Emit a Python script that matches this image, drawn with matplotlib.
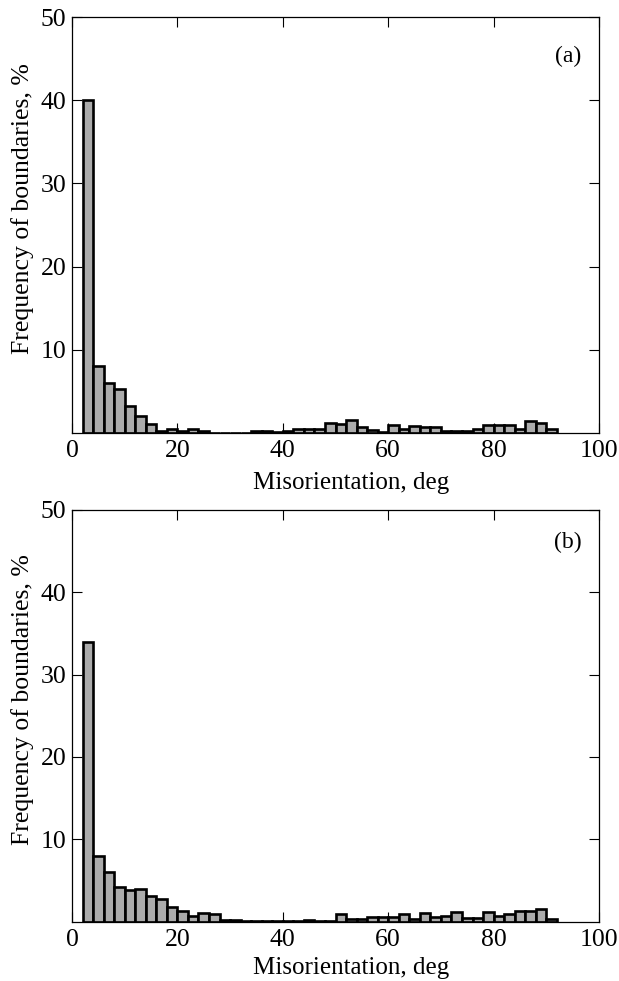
import matplotlib
matplotlib.use("Agg")
import matplotlib.pyplot as plt
import numpy as np

plt.rcParams['font.family'] = ['Liberation Serif', 'DejaVu Serif']

bin_edges = list(range(2, 94, 2))  # 2..92
freq_a = [40, 8, 6, 5.3, 3.2, 2.0, 1.1, 0.3, 0.5, 0.3, 0.5, 0.3,
          0, 0, 0, 0, 0.3, 0.3, 0.1, 0.3, 0.45, 0.45, 0.45, 1.2, 1.1, 1.55,
          0.7, 0.35, 0.1, 1.0, 0.45, 0.9, 0.7, 0.7, 0.3, 0.3, 0.3, 0.5,
          1.0, 1.0, 1.0, 0.5, 1.4, 1.25, 0.5]
freq_b = [34, 8, 6, 4.2, 3.8, 4.0, 3.1, 2.8, 1.8, 1.3, 0.7, 1.0,
          0.9, 0.25, 0.25, 0.1, 0.1, 0.1, 0.1, 0.1, 0.1, 0.2, 0.05, 0.05,
          0.9, 0.3, 0.3, 0.6, 0.6, 0.6, 0.9, 0.3, 1.05, 0.55, 0.75, 1.2,
          0.5, 0.5, 1.2, 0.75, 0.9, 1.35, 1.35, 1.6, 0.3]
panel_labels = ["(a)", "(b)"]
xlabel = "Misorientation, deg"
ylabel = "Frequency of boundaries, %"
xticks = [0, 20, 40, 60, 80, 100]
yticks = [10, 20, 30, 40, 50]

W, H = 619, 981
fig = plt.figure(figsize=(W/100, H/100), dpi=100)
axes_rects = [
    [72/W, 1-433/H, (599-72)/W, (433-17)/H],
    [72/W, 1-921.7/H, (599-72)/W, (921.7-509.7)/H],
]
label_pos = [(94.1, 45.3), (94.1, 46.0)]
xlabel_baseline_px = [56, 52]

for rect, freq, lab, lp, bl in zip(axes_rects, [freq_a, freq_b], panel_labels,
                                   label_pos, xlabel_baseline_px):
    ax = fig.add_axes(rect)
    n = len(freq)
    lefts = np.array(bin_edges[:n])
    ax.bar(lefts, freq, width=2, align='edge', color='#ababab',
           edgecolor='black', linewidth=1.9)
    ax.set_xlim(0, 100)
    ax.set_ylim(0, 50)
    ax.set_xticks(xticks)
    ax.set_yticks(yticks)
    ax.tick_params(direction='in', top=True, right=True, labelsize=18.5,
                   length=7, width=0.8, pad=5)
    ax.tick_params(axis='y', pad=4)
    for s in ax.spines.values():
        s.set_linewidth(0.9)
    ax.set_xlabel(xlabel, fontsize=18)
    ax.set_ylabel(ylabel, fontsize=18.5)
    ax.xaxis.label.set_verticalalignment('baseline')
    hpx = rect[3] * H
    ax.xaxis.set_label_coords(0.53, -bl/hpx)
    ax.yaxis.set_label_coords(-38/527, 0.54)
    ax.text(lp[0], lp[1], lab, fontsize=17, ha='center', va='center')

fig.savefig("out.png", dpi=100)
